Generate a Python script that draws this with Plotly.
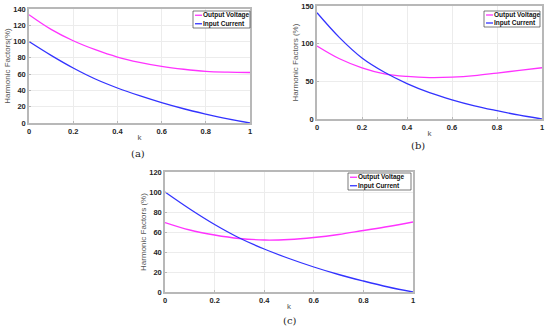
import plotly.graph_objects as go

k = [0, 0.1, 0.2, 0.3, 0.4, 0.5, 0.6, 0.7, 0.8, 0.9, 1.0]

# Panel (a)
a_output_voltage = [133, 115, 101, 90, 81, 74.5, 69.5, 66, 63.5, 62.5, 62]
a_input_current = [100, 83, 67.5, 54, 43, 33.5, 25, 17.5, 11, 5, 0]
# Panel (b)
b_output_voltage = [97, 80, 68, 60, 56.5, 55, 55.5, 57.5, 61, 64.5, 68]
b_input_current = [141, 108, 81, 62, 47, 35, 25.5, 17.5, 11, 5, 0]
# Panel (c)
c_output_voltage = [69.5, 62, 57, 53.5, 52, 52.5, 54.5, 57.5, 61.5, 65.5, 70]
c_input_current = [100, 83, 67.5, 54, 43, 33.5, 25, 17.5, 11, 5, 0]

x_ticks = [0, 0.2, 0.4, 0.6, 0.8, 1]
x_ticklabels = ["0", "0.2", "0.4", "0.6", "0.8", "1"]
panel_labels = ["(a)", "(b)", "(c)"]
series_names = ["Output Voltage", "Input Current"]

MAG = "#ff33ff"
BLU = "#3333ff"
COLORS = [MAG, BLU]

W, H = 550, 336

def px(x):
    return x / W
def py(y):
    return 1 - y / H

fig = go.Figure()

panels = [
    (a_output_voltage, a_input_current, "x", "y"),
    (b_output_voltage, b_input_current, "x2", "y2"),
    (c_output_voltage, c_input_current, "x3", "y3"),
]
for ov, ic, xa, ya in panels:
    for vals, name, col in zip([ov, ic], series_names, COLORS):
        fig.add_trace(go.Scatter(x=k, y=vals, mode="lines", name=name,
                                 line=dict(color=col, width=1.3, shape="spline"),
                                 xaxis=xa, yaxis=ya, showlegend=False))

tickfont = dict(family="Liberation Sans, Arial", size=7.5, color="#262626", weight="bold")
titlefont = dict(family="Liberation Sans, Arial", size=8, color="#555555")

def xax(domain, anchor):
    return dict(domain=domain, anchor=anchor, range=[0, 1], tickvals=x_ticks,
                ticktext=x_ticklabels, showgrid=True, gridcolor="#ececec",
                gridwidth=1, showline=True, linecolor="#b8b8b8", linewidth=1.5,
                mirror=True, ticks="inside", ticklen=2, tickcolor="#b8b8b8",
                tickfont=tickfont, zeroline=False, automargin=False,
                ticklabeloverflow="allow",
                title=dict(text="k", font=titlefont, standoff=0))

def yax(domain, anchor, rng, dtick, title):
    return dict(domain=domain, anchor=anchor, range=rng, dtick=dtick,
                showgrid=True, gridcolor="#ececec", gridwidth=1, showline=True,
                linecolor="#b8b8b8", linewidth=1.5, mirror=True, ticks="inside",
                ticklen=2, tickcolor="#b8b8b8", tickfont=tickfont, zeroline=False,
                automargin=False, ticklabeloverflow="allow",
                title=dict(text=title, font=titlefont, standoff=1))

def dx(a, b):
    return [px(a), px(b)]
def dy(top, bottom):
    return [py(bottom), py(top)]

fig.update_layout(
    width=W, height=H, margin=dict(l=0, r=0, t=0, b=0, autoexpand=False),
    paper_bgcolor="white", plot_bgcolor="white", showlegend=False,
    xaxis=xax(dx(29, 250), "y"),
    yaxis=yax(dy(9, 123), "x", [0, 140], 20, "Harmonic Factors(%)"),
    xaxis2=xax(dx(317, 542), "y2"),
    yaxis2=yax(dy(6, 119), "x2", [0, 150], 50, "Harmonic Factors (%)"),
    xaxis3=xax(dx(165, 413), "y3"),
    yaxis3=yax(dy(172, 292), "x3", [0, 120], 20, "Harmonic Factors (%)"),
)

# Compact MATLAB-style legends (box, sample line, bold text)
legfont = dict(family="Liberation Sans, Arial", size=6.5, color="#111111", weight="bold")
legend_boxes = [(193, 250, 11, 28), (484, 540, 11, 27), (348, 411, 173, 190)]
for (x0, x1, y0, y1) in legend_boxes:
    fig.add_shape(type="rect", xref="paper", yref="paper",
                  x0=px(x0), x1=px(x1), y0=py(y1), y1=py(y0),
                  line=dict(color="#444444", width=0.7), fillcolor="white", layer="above")
    rowh = (y1 - y0) / 2
    for i, (name, col) in enumerate(zip(series_names, COLORS)):
        yc = y0 + rowh * (i + 0.5)
        fig.add_shape(type="line", xref="paper", yref="paper",
                      x0=px(x0 + 2), x1=px(x0 + 9), y0=py(yc), y1=py(yc),
                      line=dict(color=col, width=1.3), layer="above")
        fig.add_annotation(text=name, x=px(x0 + 9), y=py(yc), xref="paper",
                           yref="paper", showarrow=False, font=legfont,
                           xanchor="left", yanchor="middle", borderpad=0)

label_font = dict(family="DejaVu Serif, Liberation Serif, serif", size=10, color="#222222")
for txt, x, y in zip(panel_labels, [138, 418, 290], [154, 145, 320]):
    fig.add_annotation(text=txt, x=px(x), y=py(y), xref="paper", yref="paper",
                       showarrow=False, font=label_font, xanchor="center", yanchor="middle")

# Remove the page's default 8px body margin so the figure fills the window
fig.write_html("out.html", config={"displayModeBar": False},
               post_script="document.body.style.margin='0';")
